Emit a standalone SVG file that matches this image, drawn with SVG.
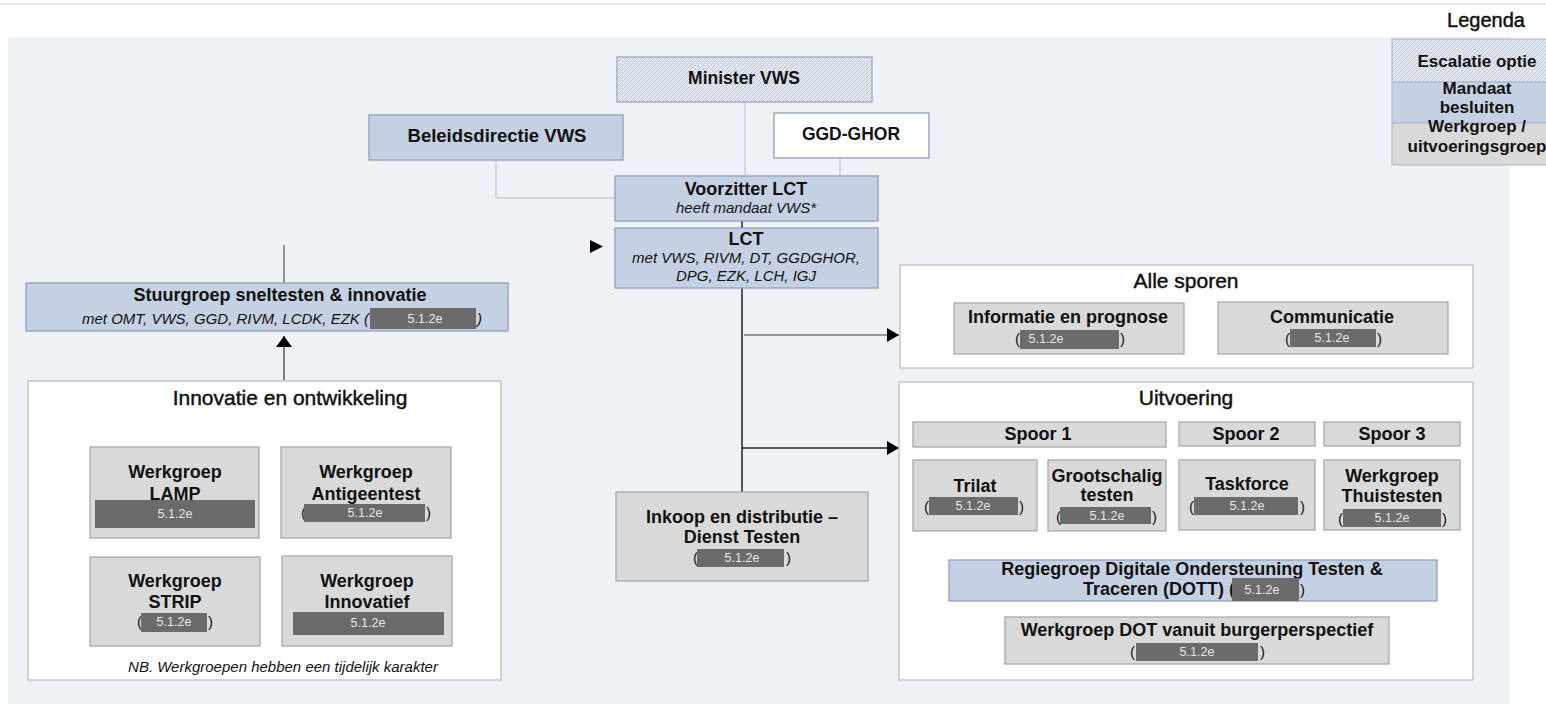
<svg xmlns="http://www.w3.org/2000/svg" width="1546" height="704" viewBox="0 0 1546 704">
<defs>
<pattern id="hatch" patternUnits="userSpaceOnUse" width="4" height="4">
<rect width="4" height="4" fill="#e1e6ef"/>
<path d="M-1,1 l2,-2 M0,4 l4,-4 M3,5 l2,-2" stroke="#b4bfd0" stroke-width="0.8"/>
</pattern>
<marker id="arr" viewBox="0 0 12 14" refX="12" refY="7" markerWidth="12" markerHeight="14" markerUnits="userSpaceOnUse" orient="auto">
<path d="M0,0 L12,7 L0,14 z" fill="#000"/>
</marker>
<marker id="arrUp" viewBox="0 0 11 16" refX="11" refY="8" markerWidth="11" markerHeight="16" markerUnits="userSpaceOnUse" orient="auto">
<path d="M0,0 L11,8 L0,16 z" fill="#000"/>
</marker>
</defs>
<style>
text{font-family:"Liberation Sans",Arial,sans-serif;fill:#111}
.b{font-weight:bold;font-size:18px}
.i{font-style:italic;font-size:15px}
.t{font-size:21px;stroke:#111;stroke-width:0.45}
.m{text-anchor:middle}
.blue{fill:#c6d0e3;stroke:#8e9fbf;stroke-width:1.3}
.gray{fill:#d9d9d9;stroke:#a9a9a9;stroke-width:1.3}
.cont{fill:#fff;stroke:#bcbcbc;stroke-width:1.3}
.red{fill:#6b6b6b}
.rt{font-size:12.5px;fill:#e6e6e6;text-anchor:middle}
.p{font-size:15px}
.lt{stroke:#c3cad6;stroke-width:1.3;fill:none}
.dk{stroke:#222;stroke-width:1.5;fill:none}
.sp{stroke:#aaaaaa;stroke-width:1.2;fill:none}
</style>
<rect width="1546" height="704" fill="#fff"/>
<rect x="0" y="3" width="1546" height="2" fill="#e4e4e4"/>
<rect x="8" y="37" width="1502" height="667" fill="#eef1f6"/>

<g id="legend">
<text x="1486" y="27" class="m t" style="font-size:20px">Legenda</text>
<rect x="1392" y="39" width="170" height="43" fill="url(#hatch)" stroke="#a9b6cc" stroke-width="1"/>
<rect x="1392" y="82" width="170" height="41" fill="#c6d0e3" stroke="#a9b6cc" stroke-width="1"/>
<rect x="1392" y="123" width="170" height="42" fill="#d9d9d9" stroke="#a9b6cc" stroke-width="1"/>
<text x="1477" y="67" class="b m" style="font-size:17px">Escalatie optie</text>
<text x="1477" y="94" class="b m" style="font-size:17px">Mandaat</text>
<text x="1477" y="113" class="b m" style="font-size:17px">besluiten</text>
<text x="1477" y="132" class="b m" style="font-size:17px">Werkgroep /</text>
<text x="1477" y="152" class="b m" style="font-size:17px">uitvoeringsgroep</text>
</g>

<g id="connectors">
<path class="lt" d="M745,102 V176"/>
<path class="lt" d="M840,158 V176"/>
<path class="lt" d="M496,160 V198 H615"/>
<path class="dk" d="M742,221 V228"/>
<path class="dk" d="M742,288 V492"/>
<path d="M744,335 H899" stroke="#777" stroke-width="1.5" fill="none" marker-end="url(#arr)"/>
<path class="dk" d="M742,448 H899" marker-end="url(#arr)"/>
<path d="M284,245 V283" stroke="#555" stroke-width="1.2" fill="none"/>
<path d="M284,380 V336" stroke="#333" stroke-width="1.2" fill="none" marker-end="url(#arrUp)"/>
<polygon points="590,240 603,246.5 590,253" fill="#000"/>
<path class="sp" d="M973,447 V460 M1101,447 V460 M1246,446 V460 M1402,446 V460"/>
<path d="M1197,601 V617" stroke="#999" stroke-width="1.2" fill="none"/>
</g>

<g id="minister">
<rect x="617" y="57" width="255" height="45" fill="url(#hatch)" stroke="#9aaac4" stroke-width="1.3"/>
<text x="744" y="84" class="b m" style="font-size:17.5px">Minister VWS</text>
</g>
<g id="beleidsdirectie">
<rect x="369" y="115" width="254" height="45" class="blue"/>
<text x="497" y="142" class="b m" style="font-size:18.5px">Beleidsdirectie VWS</text>
</g>
<g id="ggdghor">
<rect x="774" y="113" width="155" height="45" fill="#fff" stroke="#8e9fbf" stroke-width="1.3"/>
<text x="851" y="140" class="b m" style="font-size:17.5px">GGD-GHOR</text>
</g>
<g id="voorzitter">
<rect x="615" y="176" width="263" height="45" class="blue"/>
<text x="746" y="195" class="b m">Voorzitter LCT</text>
<text x="746" y="213" class="i m">heeft mandaat VWS*</text>
</g>
<g id="lct">
<rect x="615" y="228" width="263" height="60" class="blue"/>
<text x="746" y="245" class="b m">LCT</text>
<text x="746" y="263" class="i m">met VWS, RIVM, DT, GGDGHOR,</text>
<text x="746" y="281" class="i m">DPG, EZK, LCH, IGJ</text>
</g>

<g id="stuurgroep">
<rect x="26" y="283" width="482" height="48" class="blue"/>
<text x="280" y="301" class="b m">Stuurgroep sneltesten &amp; innovatie</text>
<text x="82" y="324" class="i">met OMT, VWS, GGD, RIVM, LCDK, EZK (</text>
<rect x="370" y="308" width="106" height="21" class="red"/>
<text x="425" y="323" class="rt">5.1.2e</text>
<text x="477" y="324" class="i">)</text>
</g>

<g id="innovatie">
<rect x="28" y="381" width="473" height="299" class="cont"/>
<text x="290" y="405" class="t m">Innovatie en ontwikkeling</text>
<text x="283" y="672" class="i m">NB. Werkgroepen hebben een tijdelijk karakter</text>
</g>
<g id="wg-lamp">
<rect x="90" y="447" width="169" height="91" class="gray"/>
<text x="175" y="478" class="b m">Werkgroep</text>
<text x="175" y="500" class="b m">LAMP</text>
<rect x="95" y="500" width="160" height="28" class="red"/>
<text x="175" y="518" class="rt">5.1.2e</text>
</g>
<g id="wg-antigeentest">
<rect x="281" y="447" width="170" height="91" class="gray"/>
<text x="366" y="478" class="b m">Werkgroep</text>
<text x="366" y="500" class="b m">Antigeentest</text>
<text x="301" y="518" class="p">(</text>
<rect x="304" y="504" width="121" height="18" class="red"/>
<text x="365" y="517" class="rt">5.1.2e</text>
<text x="426" y="518" class="p">)</text>
</g>
<g id="wg-strip">
<rect x="90" y="557" width="170" height="89" class="gray"/>
<text x="175" y="587" class="b m">Werkgroep</text>
<text x="175" y="608" class="b m">STRIP</text>
<text x="137" y="627" class="p">(</text>
<rect x="141" y="613" width="66" height="19" class="red"/>
<text x="174" y="626" class="rt">5.1.2e</text>
<text x="208" y="627" class="p">)</text>
</g>
<g id="wg-innovatief">
<rect x="282" y="556" width="170" height="90" class="gray"/>
<text x="367" y="587" class="b m">Werkgroep</text>
<text x="367" y="608" class="b m">Innovatief</text>
<rect x="293" y="612" width="151" height="23" class="red"/>
<text x="368" y="627" class="rt">5.1.2e</text>
</g>

<g id="inkoop">
<rect x="616" y="492" width="252" height="89" class="gray"/>
<text x="742" y="523" class="b m">Inkoop en distributie –</text>
<text x="742" y="543" class="b m">Dienst Testen</text>
<text x="693" y="563" class="p">(</text>
<rect x="697" y="549" width="87" height="18" class="red"/>
<text x="742" y="562" class="rt">5.1.2e</text>
<text x="786" y="563" class="p">)</text>
</g>

<g id="alle-sporen">
<rect x="900" y="265" width="573" height="103" class="cont"/>
<text x="1186" y="288" class="t m">Alle sporen</text>
</g>
<g id="informatie">
<rect x="954" y="303" width="230" height="51" class="gray"/>
<text x="1068" y="323" class="b m">Informatie en prognose</text>
<text x="1015" y="344" class="p">(</text>
<rect x="1020" y="330" width="99" height="19" class="red"/>
<text x="1046" y="343" class="rt">5.1.2e</text>
<text x="1120" y="344" class="p">)</text>
</g>
<g id="communicatie">
<rect x="1218" y="302" width="230" height="52" class="gray"/>
<text x="1332" y="323" class="b m">Communicatie</text>
<text x="1285" y="344" class="p">(</text>
<rect x="1290" y="329" width="86" height="18" class="red"/>
<text x="1332" y="342" class="rt">5.1.2e</text>
<text x="1377" y="344" class="p">)</text>
</g>

<g id="uitvoering">
<rect x="899" y="382" width="574" height="298" class="cont"/>
<text x="1186" y="405" class="t m">Uitvoering</text>
</g>
<g id="spoor1">
<rect x="913" y="422" width="253" height="25" class="gray"/>
<text x="1038" y="440" class="b m">Spoor 1</text>
</g>
<g id="spoor2">
<rect x="1179" y="422" width="136" height="24" class="gray"/>
<text x="1246" y="440" class="b m">Spoor 2</text>
</g>
<g id="spoor3">
<rect x="1324" y="422" width="136" height="24" class="gray"/>
<text x="1392" y="440" class="b m">Spoor 3</text>
</g>
<g id="trilat">
<rect x="913" y="460" width="124" height="71" class="gray"/>
<text x="975" y="492" class="b m">Trilat</text>
<text x="924" y="512" class="p">(</text>
<rect x="929" y="497" width="89" height="18" class="red"/>
<text x="973" y="510" class="rt">5.1.2e</text>
<text x="1019" y="512" class="p">)</text>
</g>
<g id="grootschalig">
<rect x="1048" y="460" width="118" height="71" class="gray"/>
<text x="1107" y="482" class="b m">Grootschalig</text>
<text x="1107" y="501" class="b m">testen</text>
<text x="1056" y="522" class="p">(</text>
<rect x="1060" y="507" width="91" height="17" class="red"/>
<text x="1107" y="520" class="rt">5.1.2e</text>
<text x="1152" y="522" class="p">)</text>
</g>
<g id="taskforce">
<rect x="1179" y="460" width="136" height="70" class="gray"/>
<text x="1247" y="490" class="b m">Taskforce</text>
<text x="1189" y="512" class="p">(</text>
<rect x="1194" y="497" width="104" height="18" class="red"/>
<text x="1247" y="510" class="rt">5.1.2e</text>
<text x="1300" y="512" class="p">)</text>
</g>
<g id="thuistesten">
<rect x="1324" y="460" width="136" height="70" class="gray"/>
<text x="1392" y="482" class="b m">Werkgroep</text>
<text x="1392" y="502" class="b m">Thuistesten</text>
<text x="1338" y="524" class="p">(</text>
<rect x="1343" y="509" width="98" height="18" class="red"/>
<text x="1392" y="522" class="rt">5.1.2e</text>
<text x="1442" y="524" class="p">)</text>
</g>
<g id="dott">
<rect x="949" y="560" width="488" height="41" class="blue"/>
<text x="1192" y="575" class="b m">Regiegroep Digitale Ondersteuning Testen &amp;</text>
<text x="1083" y="595" class="b">Traceren (DOTT) (</text>
<rect x="1232" y="578" width="67" height="23" class="red"/>
<text x="1262" y="594" class="rt">5.1.2e</text>
<text x="1300" y="595" class="p">)</text>
</g>
<g id="dot-burger">
<rect x="1005" y="617" width="384" height="47" class="gray"/>
<text x="1197" y="636" class="b m">Werkgroep DOT vanuit burgerperspectief</text>
<text x="1130" y="657" class="p">(</text>
<rect x="1136" y="643" width="122" height="18" class="red"/>
<text x="1197" y="656" class="rt">5.1.2e</text>
<text x="1260" y="657" class="p">)</text>
</g>
</svg>
